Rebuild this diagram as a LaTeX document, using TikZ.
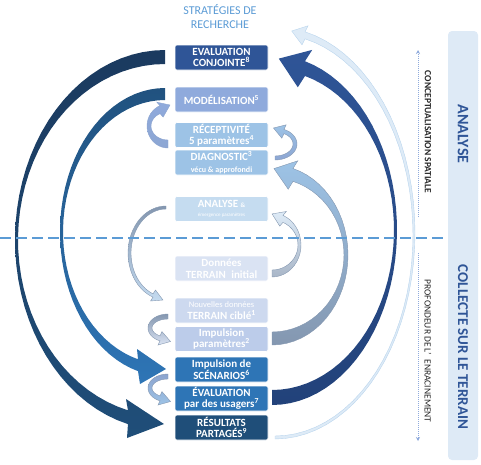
\documentclass[tikz,border=0pt]{standalone}
\usepackage{fontspec}
\setmainfont{Carlito}
\usetikzlibrary{arrows.meta}
\definecolor{navy}{HTML}{1F4E79}
\definecolor{navydark}{HTML}{1B3A5F}
\definecolor{royal}{HTML}{2F5597}
\definecolor{royaldark}{HTML}{22427A}
\definecolor{mid}{HTML}{2E75B6}
\definecolor{lav}{HTML}{8FAADC}
\definecolor{sky}{HTML}{9DC3E6}
\definecolor{pale}{HTML}{C5DCF0}
\definecolor{mist}{HTML}{DAE3F3}
\definecolor{ice}{HTML}{DEEBF7}
\definecolor{slate}{HTML}{8497B0}
\definecolor{headblue}{HTML}{5B9BD5}
\definecolor{panelblue}{HTML}{DEEAF6}
\tikzset{
  stage/.style={rounded corners=2pt, minimum width=93pt, minimum height=25pt, inner sep=0.5pt,
    align=center, text=white, draw=white, line width=0.6pt, font=\bfseries\fontsize{11}{11.5}\selectfont},
  ribbon/.style={draw=#1, line width=0.4pt},
  sidelabel/.style={rotate=-90, text=black!85, font=\fontsize{9.5}{10}\selectfont},
  dotarrow/.style={densely dotted, draw=lav, line width=1pt, -{Stealth[length=4pt,width=4pt]}},
}
\begin{document}
\begin{tikzpicture}[x=1pt,y=-1pt]
\useasboundingbox (0,0) rectangle (481,464);

% side panel
\fill[panelblue, rounded corners=4pt] (448,31) rectangle (478,460);
\node[rotate=-90, text=royal, font=\bfseries\fontsize{16}{16}\selectfont] (sideana) at (463,134) {ANALYSE};
\node[rotate=-90, text=royal, font=\bfseries\fontsize{15}{15}\selectfont] (sidecol) at (463,347) {COLLECTE SUR LE TERRAIN};

\coordinate (up0) at (418,217); \coordinate (up1) at (418,50);
\coordinate (dn0) at (418,253); \coordinate (dn1) at (418,441);
\draw[dotarrow] (up0) -- (up1);
\draw[dotarrow] (dn0) -- (dn1);
\node[sidelabel, font=\bfseries\fontsize{9.5}{10}\selectfont] (concept) at (428,132) {CONCEPTUALISATION SPATIALE};
\node[sidelabel] (depth) at (428,351) {PROFONDEUR DE L’\enspace ENRACINEMENT};

\node[text=headblue, align=center, font=\fontsize{12}{14}\selectfont] (strat) at (220,17) {STRATÉGIES DE\\RECHERCHE};

% big arcs
\shade[top color=navydark, middle color=navy!85!mid, bottom color=navy]
  plot[domain=0:165.7, samples=40] ({165-150*sin(\x)}, {240-190*cos(\x)})
  -- (127,438) -- (164,424) -- (126,399)
  -- plot[domain=165.4:0, samples=40] ({165-147*sin(\x)}, {240-176*cos(\x)}) -- cycle;
\shade[top color=navy!90!mid, bottom color=mid]
  plot[domain=0:165.1, samples=40] ({165-105*sin(\x)}, {232-144*cos(\x)})
  -- (140,384) -- (166,369) -- (137,349)
  -- plot[domain=164.65:0, samples=40] ({165-102*sin(\x)}, {232-132*cos(\x)}) -- cycle;
\shade[top color=royal, bottom color=royaldark]
  plot[domain=180:15.3, samples=40] ({272+125*sin(\x)}, {230-175*cos(\x)})
  -- (312.2,49.9) -- (278.8,58.6) -- (297.8,87.3)
  -- plot[domain=15.7:180, samples=40] ({272+122*sin(\x)}, {230-160*cos(\x)}) -- cycle;
\filldraw[fill=ice, draw=sky!70, line width=0.4pt]
  plot[domain=180:12.4, samples=40] ({275+140*sin(\x)}, {233-206*cos(\x)})
  -- (308,25.8) -- (291.7,31) -- (302,44.8)
  -- plot[domain=12.56:180, samples=40] ({275+138*sin(\x)}, {235-201*cos(\x)}) -- cycle;
\shadedraw[ribbon=slate, top color=sky, bottom color=slate]
  plot[domain=180:16, samples=30] ({272+76*sin(\x)}, {255-90*cos(\x)})
  -- (297.8,160.8) -- (274,168.6) -- (288.2,189.2)
  -- plot[domain=16.96:180, samples=30] ({272+72*sin(\x)}, {255-77*cos(\x)}) -- cycle;

% small arcs
\shadedraw[ribbon=slate, top color=ice, bottom color=slate!70]
  plot[domain=180:22.3, samples=20] ({272+29*sin(\x)}, {245-32*cos(\x)})
  -- (286.3,211.5) -- (272.1,213.9) -- (279.7,226.1)
  -- plot[domain=25:180, samples=20] ({272+26*sin(\x)}, {245-25*cos(\x)}) -- cycle;
\shadedraw[ribbon=slate, top color=sky, bottom color=lav!80!slate]
  plot[domain=180:24.1, samples=20] ({275+22*sin(\x)}, {144-16*cos(\x)})
  -- (286.2,124.8) -- (273.5,128) -- (281.8,138.2)
  -- plot[domain=30:180, samples=20] ({275+18*sin(\x)}, {144-12*cos(\x)}) -- cycle;
\shadedraw[ribbon=lav!70!slate, top color=lav, bottom color=lav!80!slate]
  plot[domain=180:22.4, samples=20] ({168-21*sin(\x)}, {126-22*cos(\x)})
  -- (156.8,102.2) -- (170,105) -- (163.2,117)
  -- plot[domain=28.1:180, samples=20] ({168-17*sin(\x)}, {126-14*cos(\x)}) -- cycle;
\shadedraw[ribbon=slate, top color=slate, bottom color=sky!60]
  plot[domain=0:160, samples=30] ({166-38*sin(\x)}, {253-47*cos(\x)})
  -- (150.5,301) -- (163,300) -- (155.5,290)
  -- plot[domain=158.2:0, samples=30] ({166-35*sin(\x)}, {253-44*cos(\x)}) -- cycle;
\foreach \cy/\ca/\cb in {328/slate/mist, 388/lav!70!slate/sky} {
  \shadedraw[ribbon=slate, top color=\ca, bottom color=\cb]
    plot[domain=0:156.4, samples=20] ({168-20*sin(\x)}, {\cy-14*cos(\x)})
    -- (158,\cy+17) -- (170.5,\cy+13.5) -- (162,\cy+3.6)
    -- plot[domain=150:0, samples=20] ({168-16*sin(\x)}, {\cy-9*cos(\x)}) -- cycle;
}

% split line
\coordinate (cutl) at (0,238); \coordinate (cutr) at (446,238);
\draw[headblue, line width=2.6pt, dash pattern=on 11pt off 5pt] (cutl) -- (cutr);

% stages
\node[stage, fill=royal] (conj) at (221.5,57.5) {EVALUATION\\CONJOINTE\textsuperscript{8}};
\node[stage, fill=lav] (mod) at (221.5,99.5) {MODÉLISATION\textsuperscript{5}};
\node[stage, fill=sky] (rec) at (221.5,135) {RÉCEPTIVITÉ\\5 paramètres\textsuperscript{4}};
\node[stage, fill=sky] (diag) at (221.5,162.5) {DIAGNOSTIC\textsuperscript{3}\\{\fontsize{8}{8.5}\selectfont vécu \& approfondi}};
\node[stage, fill=pale] (ana) at (221.5,209) {ANALYSE {\fontsize{6.5}{6.5}\selectfont\&}\\[-2pt]{\mdseries\fontsize{5}{5.5}\selectfont émergence paramètres}};
\node[stage, fill=mist] (don) at (221.5,268.5) {Données\\TERRAIN\enspace initial};
\node[stage, fill=lav!45!white] (nouv) at (221.5,310.5) {{\mdseries\fontsize{8.5}{9}\selectfont Nouvelles données}\\TERRAIN ciblé\textsuperscript{1}};
\node[stage, fill=lav!60!white] (impp) at (221.5,339) {Impulsion\\paramètres\textsuperscript{2}};
\node[stage, fill=mid] (scen) at (221.5,369.5) {Impulsion de\\SCÉNARIOS\textsuperscript{6}};
\node[stage, fill=mid] (eval) at (221.5,398.5) {ÉVALUATION\\par des usagers\textsuperscript{7}};
\node[stage, fill=navy] (res) at (221.5,427.5) {RÉSULTATS\\PARTAGÉS\textsuperscript{9}};
\end{tikzpicture}
\end{document}
